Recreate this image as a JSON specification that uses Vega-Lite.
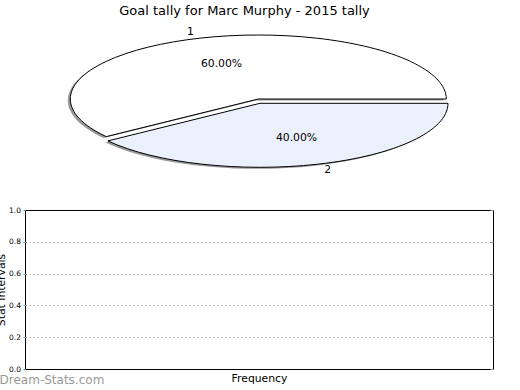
{
  "$schema": "https://vega.github.io/schema/vega-lite/v6.json",
  "padding": {"left": -5, "top": 5, "right": 5, "bottom": 2},
  "config": {"font": "DejaVu Sans", "view": {"stroke": null}},
  "title": {"text": "Goal tally for Marc Murphy - 2015 tally", "fontSize": 13, "fontWeight": "normal", "color": "black", "anchor": "middle", "offset": 8},
  "spacing": 34,
  "bounds": "flush",
  "vconcat": [
    {
      "width": 468,
      "height": 150,
      "data": {"values": [{"label": "1", "share": 0.6}, {"label": "2", "share": 0.4}]},
      "layer": [
        {
          "mark": {"type": "point", "filled": true, "size": 40000, "fill": "#999999", "opacity": 1, "strokeWidth": 0},
          "encoding": {
            "shape": {"field": "label", "type": "nominal", "legend": null, "scale": {"range": [
              "M-0.032,-0.005 L1.848,-0.005 A1.88,0.64 0 1 0 -1.55295,0.37118 Z",
              "M-0.015,0.038 L-1.53595,0.41418 A1.88,0.64 0 0 0 1.865,0.038 Z"
            ]}}
          }
        },
        {
          "mark": {"type": "point", "filled": true, "size": 40000, "stroke": "black", "strokeWidth": 1, "opacity": 1},
          "encoding": {
            "shape": {"field": "label", "type": "nominal", "legend": null, "scale": {"range": [
              "M-0.007,-0.02 L1.873,-0.02 A1.88,0.64 0 1 0 -1.52795,0.35618 Z",
              "M0.01,0.023 L-1.51095,0.39918 A1.88,0.64 0 0 0 1.89,0.023 Z"
            ]}},
            "color": {"field": "label", "type": "nominal", "legend": null, "scale": {"range": ["#ffffff", "#ebf1fc"]}}
          }
        },
        {
          "mark": {"type": "text", "radius": 97, "fontSize": 10.8, "color": "black"},
          "encoding": {
            "theta": {"field": "share", "type": "quantitative", "stack": true, "scale": {"range": [3.6128, 9.896]}},
            "order": {"field": "label"},
            "text": {"field": "label"}
          }
        },
        {
          "mark": {"type": "text", "radius": 53, "fontSize": 10.8, "color": "black"},
          "encoding": {
            "theta": {"field": "share", "type": "quantitative", "stack": true, "scale": {"range": [3.6128, 9.896]}},
            "order": {"field": "label"},
            "text": {"field": "share", "type": "quantitative", "format": ".2%"}
          }
        }
      ],
      "resolve": {"scale": {"shape": "independent"}}
    },
    {
      "width": 468,
      "height": 159,
      "view": {"stroke": "black", "strokeWidth": 1},
      "title": {"text": "Dream-Stats.com", "orient": "bottom", "anchor": "start", "frame": "bounds", "fontSize": 12, "fontWeight": "normal", "color": "#999999", "offset": -8, "dx": 4},
      "data": {"values": []},
      "layer": [
        {
          "mark": "point",
          "encoding": {
            "x": {"field": "freq", "type": "quantitative", "scale": {"domain": [0, 1]},
                  "axis": {"title": "Frequency", "labels": false, "ticks": false, "domain": false, "grid": false, "titleFontSize": 10.8, "titleFontWeight": "normal", "titleColor": "black", "titlePadding": 3}},
            "y": {"field": "interval", "type": "quantitative", "scale": {"domain": [0, 1]},
                  "axis": {"title": "Stat Intervals", "values": [0, 0.2, 0.4, 0.6, 0.8, 1], "format": ".1f", "labelFontSize": 7.5, "labelColor": "black", "labelPadding": 2.5, "ticks": true, "tickSize": 2, "tickColor": "#999999", "domain": false, "grid": true, "gridColor": "#b5b5b5", "gridDash": [1.5, 2.5], "gridOpacity": {"condition": {"test": "datum.value == 0 || datum.value == 1", "value": 0}, "value": 1}, "titleFontSize": 10.8, "titleFontWeight": "normal", "titleColor": "black", "titlePadding": 2}}
          }
        },
        {
          "mark": "point",
          "encoding": {
            "y": {"field": "interval", "type": "quantitative", "scale": {"domain": [0, 1]},
                  "axis": {"orient": "right", "title": null, "labels": false, "domain": false, "grid": false, "ticks": true, "tickSize": -3, "tickColor": "#999999", "values": [0, 0.2, 0.4, 0.6, 0.8, 1]}}
          }
        }
      ],
      "resolve": {"axis": {"y": "independent"}}
    }
  ]
}
